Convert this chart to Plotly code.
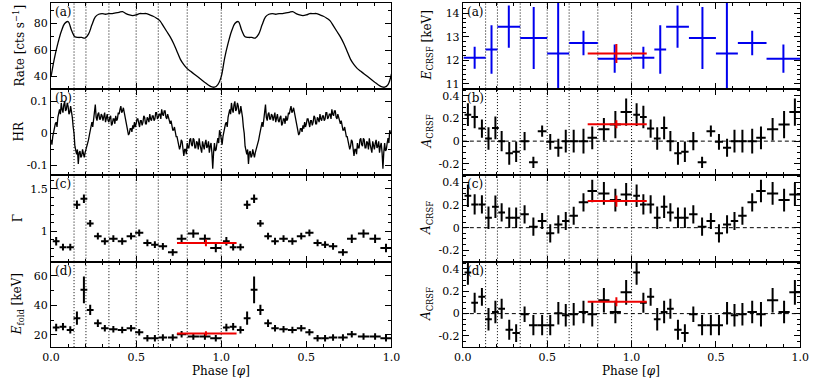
import numpy as np
import plotly.graph_objects as go
from plotly.subplots import make_subplots

# ---- left column ----
# light curve, one pulse cycle in phase bins of 0.02
RATE = [40, 54, 65, 74, 80, 81.5, 75, 70, 69.5, 69.5, 69, 72, 79, 85, 87, 87.5, 87, 87.5,
        87.5, 88, 88.5, 89, 87.5, 86.5, 86, 86.5, 87.5, 87.5, 87.5, 86.5, 85.5, 84, 82, 78,
        74, 70, 65, 59, 53, 49, 46, 44, 42, 40, 38, 36, 34, 32.5, 32, 34]

# hardness ratio, one pulse cycle in phase bins of 0.005
HR = [-0.02, -0.035, -0.01, 0.005, 0.01, 0.03, 0.035, 0.02, 0.05, 0.07,
      0.075, 0.06, 0.095, 0.075, 0.065, 0.09, 0.1, 0.07, 0.075, 0.095,
      0.085, 0.06, 0.065, 0.085, 0.07, 0.05, 0.02, 0.0, -0.04, -0.05,
      -0.065, -0.05, -0.095, -0.06, -0.055, -0.075, -0.07, -0.05, -0.065, -0.075,
      -0.06, -0.05, -0.045, -0.035, -0.02, -0.005, 0.01, 0.025, 0.035, 0.02,
      0.05, 0.065, 0.09, 0.05, 0.04, 0.06, 0.065, 0.045, 0.045, 0.06,
      0.055, 0.04, 0.05, 0.065, 0.035, 0.055, 0.06, 0.04, 0.035, 0.05,
      0.055, 0.025, 0.03, 0.045, 0.045, 0.03, 0.055, 0.04, 0.045, 0.065,
      0.06, 0.075, 0.085, 0.065, 0.07, 0.08, 0.065, 0.05, 0.045, 0.025,
      0.01, -0.005, 0.0, 0.015, 0.015, 0.005, 0.025, 0.015, 0.035, 0.02,
      0.03, 0.045, 0.045, 0.025, 0.02, 0.04, 0.04, 0.025, 0.035, 0.055,
      0.05, 0.03, 0.03, 0.05, 0.045, 0.035, 0.06, 0.045, 0.04, 0.055,
      0.055, 0.04, 0.045, 0.065, 0.065, 0.045, 0.05, 0.06, 0.06, 0.045,
      0.075, 0.06, 0.055, 0.07, 0.07, 0.05, 0.045, 0.06, 0.05, 0.035,
      0.03, 0.04, 0.025, 0.01, 0.01, 0.02, 0.005, -0.01, -0.01, -0.025,
      -0.03, -0.05, -0.04, -0.02, -0.025, -0.045, -0.07, -0.05, -0.05, -0.065,
      -0.03, -0.045, -0.045, -0.02, -0.015, -0.035, -0.04, -0.015, -0.02, -0.045,
      -0.045, -0.025, -0.03, -0.05, -0.015, -0.035, -0.045, -0.06, -0.025, -0.04,
      -0.05, -0.03, -0.02, -0.045, -0.04, -0.025, -0.06, -0.04, -0.03, -0.06,
      -0.11, -0.06, -0.03, -0.055, -0.05, -0.03, -0.015, -0.03, 0.01, 0.0]

# phase-resolved spectroscopy bins (20 per cycle)
PHASE = [0.03, 0.07, 0.113, 0.152, 0.193, 0.23, 0.275, 0.316, 0.366, 0.418,
         0.47, 0.518, 0.566, 0.61, 0.657, 0.715, 0.767, 0.836, 0.904, 0.968]
PHASE_ERR = [0.02, 0.02, 0.021, 0.02, 0.02, 0.02, 0.022, 0.022, 0.025, 0.026,
             0.026, 0.024, 0.024, 0.022, 0.025, 0.028, 0.028, 0.033, 0.033, 0.033]

GAMMA = [0.88, 0.81, 0.81, 1.31, 1.38, 1.09, 0.94, 0.88, 0.91, 0.88,
         0.94, 0.98, 0.86, 0.84, 0.82, 0.75, 0.91, 0.97, 0.91, 0.80]
GAMMA_ERR = [0.05, 0.04, 0.04, 0.05, 0.05, 0.04, 0.04, 0.04, 0.04, 0.04,
             0.04, 0.04, 0.04, 0.04, 0.04, 0.04, 0.05, 0.05, 0.05, 0.05]

EFOLD = [25, 25.6, 23.4, 31.3, 50.5, 36.9, 27.9, 24.5, 23.8, 23.4,
         24.5, 21.8, 17.8, 17.8, 18.2, 18.2, 20.5, 19, 19, 17.8]
EFOLD_ERR = [2.5, 2.5, 2.5, 4.5, 9, 3.5, 2.5, 2.2, 2.2, 2.2,
             2.2, 2.2, 2.2, 2.2, 2.2, 2.2, 2.2, 2.2, 2.2, 2.2]

# ---- right column ----
ECRSF_PHASE = [0.07, 0.17, 0.2725, 0.42, 0.565, 0.715, 0.9]
ECRSF_PHASE_ERR = [0.065, 0.035, 0.0675, 0.08, 0.065, 0.085, 0.1]
ECRSF = [12.11, 12.46, 13.43, 12.95, 12.29, 12.74, 12.07]
ECRSF_ERR = [0.47, 1.03, 0.9, 1.32, 2.3, 0.52, 0.6]

A_B = [0.234, 0.213, 0.111, 0.023, 0.117, 0.0, -0.108, -0.094, 0.0, -0.187,
       0.088, -0.006, -0.058, 0.0, 0.0, 0.0, 0.029, 0.105, 0.146, 0.257]
A_B_ERR = [0.1, 0.1, 0.08, 0.1, 0.1, 0.09, 0.1, 0.09, 0.08, 0.05,
           0.05, 0.07, 0.08, 0.1, 0.1, 0.11, 0.1, 0.1, 0.12, 0.12]

A_C = [0.282, 0.206, 0.206, 0.088, 0.185, 0.135, 0.088, 0.088, 0.118, 0.009,
       0.059, -0.05, 0.029, 0.059, 0.106, 0.224, 0.324, 0.303, 0.244, 0.294]
A_C_ERR = [0.1, 0.09, 0.08, 0.1, 0.1, 0.08, 0.09, 0.09, 0.08, 0.08,
           0.07, 0.08, 0.08, 0.08, 0.08, 0.08, 0.1, 0.1, 0.1, 0.1]

A_D = [0.368, 0.097, 0.15, -0.05, 0.015, 0.044, -0.144, -0.174, -0.006, -0.103,
       -0.103, -0.103, 0.003, -0.015, -0.006, 0.015, -0.006, 0.12, 0.015, 0.19]
A_D_ERR = [0.11, 0.09, 0.08, 0.1, 0.1, 0.09, 0.09, 0.08, 0.07, 0.09,
           0.09, 0.09, 0.1, 0.1, 0.1, 0.1, 0.11, 0.11, 0.1, 0.11]

# phase-averaged values (red)
AVG_PHASE, AVG_LO, AVG_HI = 0.91, 0.74, 1.09
AVG_GAMMA, AVG_EFOLD, AVG_ECRSF = 0.86, 21.0, 12.29
AVG_A = [0.149, 0.235, 0.106]

DIVIDERS = [0.135, 0.205, 0.34, 0.5, 0.63, 0.8, 1.0]

FONT = 'DejaVu Serif'


def two_cycles(x, *ys):
    out = [list(x) + [v + 1 for v in x]]
    for y in ys:
        out.append(list(y) * 2)
    return out


def crosses(fig, x, y, ex, ey, row, col, color='black', exm=None):
    fig.add_trace(go.Scatter(
        x=x, y=y, mode='markers', marker=dict(size=2, color=color),
        error_x=dict(type='data', array=ex, arrayminus=exm, color=color, thickness=2, width=0),
        error_y=dict(type='data', array=ey, color=color, thickness=2, width=0),
        showlegend=False, hoverinfo='skip'), row=row, col=col)


fig = make_subplots(rows=4, cols=2)

# light curve
ph_lc = np.arange(len(RATE)) / len(RATE)
x, y = two_cycles(ph_lc, RATE)
fig.add_trace(go.Scatter(x=x + [2.0], y=y + [RATE[0] + 2], mode='lines', line=dict(color='black', width=1.3),
                         line_shape='spline', showlegend=False), row=1, col=1)

ph_hr = np.arange(len(HR)) / len(HR)
x, y = two_cycles(ph_hr, HR)
fig.add_trace(go.Scatter(x=x, y=y, mode='lines', line=dict(color='black', width=1.3),
                         showlegend=False), row=2, col=1)

x, y, ey, ex = two_cycles(PHASE, GAMMA, GAMMA_ERR, PHASE_ERR)
crosses(fig, x, y, ex, ey, 3, 1)
x, y, ey = two_cycles(PHASE, EFOLD, EFOLD_ERR)
crosses(fig, x, y, ex, ey, 4, 1)

x, y, ey, ex = two_cycles(ECRSF_PHASE, ECRSF, ECRSF_ERR, ECRSF_PHASE_ERR)
crosses(fig, x, y, ex, ey, 1, 2, color='#0000ee')
x, ex = two_cycles(PHASE, PHASE_ERR)
for r, (vals, errs) in enumerate([(A_B, A_B_ERR), (A_C, A_C_ERR), (A_D, A_D_ERR)], start=2):
    _, y, ey = two_cycles(PHASE, vals, errs)
    crosses(fig, x, y, ex, ey, r, 2)

# red phase-averaged crosses
red = '#ee0000'
for (r, c, val, err) in [(3, 1, AVG_GAMMA, 0.04), (4, 1, AVG_EFOLD, 1.5), (1, 2, AVG_ECRSF, 0.4),
                         (2, 2, AVG_A[0], 0.035), (3, 2, AVG_A[1], 0.05), (4, 2, AVG_A[2], 0.04)]:
    crosses(fig, [AVG_PHASE], [val], [AVG_HI - AVG_PHASE], [err], r, c, color=red,
            exm=[AVG_PHASE - AVG_LO])

W, H = 822, 381
left_x = [43 / W, 391 / W]
right_x = [464 / W, 809 / W]
rows_px = [(3, 89), (89, 176), (176, 263), (263, 349)]
row_dom = [[1 - b / H, 1 - t / H] for t, b in rows_px]

yspec = {
    1: dict(range=[31, 95.5], tickvals=[40, 60, 80], ticktext=['40', '60', '80'], minor=10),
    3: dict(range=[-0.13, 0.14], tickvals=[-0.1, 0, 0.1], ticktext=['-0.1', '0', '0.1'], minor=0.05),
    5: dict(range=[0.64, 1.66], tickvals=[1, 1.5], ticktext=['1', '1.5'], minor=0.1),
    7: dict(range=[11.7, 69.6], tickvals=[20, 40, 60], ticktext=['20', '40', '60'], minor=10),
    2: dict(range=[10.8, 14.44], tickvals=[11, 12, 13, 14], ticktext=['11', '12', '13', '14'], minor=0.2),
    4: dict(range=[-0.3, 0.465], tickvals=[-0.2, 0, 0.2, 0.4], ticktext=['-0.2', '0', '0.2', '0.4'], minor=0.05),
    6: dict(range=[-0.3, 0.465], tickvals=[-0.2, 0, 0.2, 0.4], ticktext=['-0.2', '0', '0.2', '0.4'], minor=0.05),
    8: dict(range=[-0.3, 0.465], tickvals=[-0.2, 0, 0.2, 0.4], ticktext=['-0.2', '0', '0.2', '0.4'], minor=0.05),
}

axis_common = dict(showline=True, linecolor='black', linewidth=1, mirror='allticks',
                   ticks='inside', ticklen=6, tickcolor='black', showgrid=False, zeroline=False,
                   tickfont=dict(family=FONT, size=11, color='black'))

for n in range(1, 9):
    r = (n - 1) // 2
    c = (n - 1) % 2
    s = yspec[n]
    xa = 'xaxis' if n == 1 else f'xaxis{n}'
    ya = 'yaxis' if n == 1 else f'yaxis{n}'
    fig.layout[xa].update(domain=left_x if c == 0 else right_x, range=[0, 2],
                          tickvals=[0, 0.5, 1, 1.5, 2], ticktext=['0.0', '0.5', '1.0', '0.5', '1.0'],
                          showticklabels=(r == 3),
                          minor=dict(dtick=0.1, tick0=0, ticks='inside', ticklen=3, tickcolor='black'),
                          **axis_common)
    fig.layout[ya].update(domain=row_dom[r], range=s['range'], tickvals=s['tickvals'],
                          ticktext=s['ticktext'],
                          minor=dict(dtick=s['minor'], tick0=0, ticks='inside', ticklen=3, tickcolor='black'),
                          **axis_common)
    xs = 'x' if n == 1 else f'x{n}'
    ys = 'y' if n == 1 else f'y{n}'
    for d in DIVIDERS:
        fig.add_shape(type='line', x0=d, x1=d, y0=0, y1=1, xref=xs, yref=f'{ys} domain',
                      line=dict(color='black', width=1, dash='1px,2px'), layer='below')
    if c == 1 and r > 0:
        fig.add_shape(type='line', x0=0, x1=1, y0=0, y1=0, xref=f'{xs} domain', yref=ys,
                      line=dict(color='black', width=1, dash='4px,3px'), layer='below')
    fig.add_annotation(text='(' + 'abcd'[r] + ')', xref=f'{xs} domain', yref=f'{ys} domain',
                       x=0.005, y=1.0, xanchor='left', yanchor='top', showarrow=False,
                       font=dict(family=FONT, size=12, color='black'))

ytitles = [
    (10, 0, 'Rate [cts s<sup>\u22121</sup>]'),
    (10, 1, 'HR'),
    (10, 2, '\u0393'),
    (10, 3, '<i>E</i><sub>fold</sub> [keV]'),
    (428, 0, '<i>E</i><sub>CRSF</sub> [keV]'),
    (428, 1, '<i>A</i><sub>CRSF</sub>'),
    (428, 2, '<i>A</i><sub>CRSF</sub>'),
    (428, 3, '<i>A</i><sub>CRSF</sub>'),
]
for px, r, txt in ytitles:
    fig.add_annotation(text=txt, xref='paper', yref='paper', x=px / W, y=sum(row_dom[r]) / 2,
                       textangle=-90, showarrow=False, xanchor='center', yanchor='middle',
                       font=dict(family=FONT, size=12, color='black'))

for cx in [217, 636]:
    fig.add_annotation(text='Phase [<i>\u03c6</i>]', xref='paper', yref='paper', x=cx / W, y=1 - 373 / H,
                       showarrow=False, xanchor='center', yanchor='middle',
                       font=dict(family=FONT, size=12, color='black'))

fig.update_layout(width=W, height=H, margin=dict(l=0, r=0, t=0, b=0),
                  plot_bgcolor='white', paper_bgcolor='white', showlegend=False)

# the page's default body margin would push the 822x381 figure out of the window
fig.write_html("out.html", config={'displayModeBar': False},
               post_script="document.body.style.margin='0';")
